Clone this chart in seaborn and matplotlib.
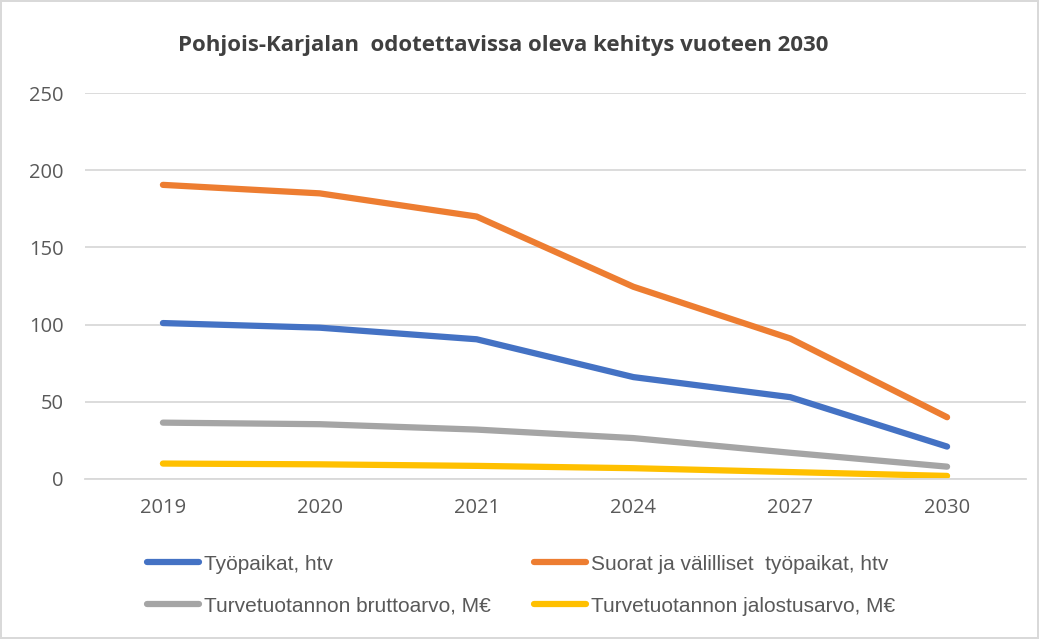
import matplotlib
matplotlib.use('Agg')
import matplotlib.pyplot as plt
import seaborn as sns
import pandas as pd

# ===== DATA =====
years = ['2019', '2020', '2021', '2024', '2027', '2030']
tyopaikat = [101, 98, 90.5, 66, 53, 21]
suorat_valilliset = [190.5, 185, 170, 124.5, 91, 40]
bruttoarvo = [36.5, 35.5, 32, 26.5, 17, 8]
jalostusarvo = [10, 9.5, 8.5, 7, 4.5, 2]

series_names = [
    'Työpaikat, htv',
    'Suorat ja välilliset  työpaikat, htv',
    'Turvetuotannon bruttoarvo, M€',
    'Turvetuotannon jalostusarvo, M€',
]
colors = ['#4472C4', '#ED7D31', '#A5A5A5', '#FFC000']

frames = []
for name, vals in zip(series_names, [tyopaikat, suorat_valilliset, bruttoarvo, jalostusarvo]):
    frames.append(pd.DataFrame({'year': years, 'value': vals, 'series': name}))
df = pd.concat(frames, ignore_index=True)

sns.set_theme(style='white')
plt.rcParams['font.family'] = ['Open Sans', 'DejaVu Sans']

W, H = 1039, 639
fig = plt.figure(figsize=(W / 100, H / 100), dpi=100)
fig.patch.set_edgecolor('#D9D9D9')
fig.patch.set_linewidth(1.5)
ax = fig.add_axes([84.5 / W, (H - 479) / H, 941 / W, 386 / H])

sns.lineplot(data=df, x='year', y='value', hue='series', hue_order=series_names,
             palette=colors, linewidth=4.5, ax=ax, legend=False, sort=False,
             solid_capstyle='round')

ax.set_xlim(-0.5, len(years) - 0.5)
ax.set_ylim(0, 250)
ax.set_yticks(range(0, 251, 50))
ax.set_xlabel('')
ax.set_ylabel('')
ax.yaxis.grid(True, color='#D9D9D9', linewidth=1.3)
ax.set_axisbelow(True)
for side in ['top', 'right', 'left']:
    ax.spines[side].set_visible(False)
ax.spines['bottom'].set_color('#D9D9D9')
ax.spines['bottom'].set_linewidth(1.3)
ax.tick_params(axis='both', length=0, labelsize=14.5, labelcolor='#595959')
ax.tick_params(axis='x', pad=14)
ax.tick_params(axis='y', pad=15)

fig.text(503 / W, 1 - 45 / H, 'Pohjois-Karjalan  odotettavissa oleva kehitys vuoteen 2030',
         ha='center', va='center', fontsize=16, fontweight='bold', color='#404040')

# legend: fill order gives rows [blue, orange] / [gray, yellow]
handles = [plt.Line2D([], [], color=c, linewidth=4.5, solid_capstyle='round') for c in colors]
order = [0, 2, 1, 3]
leg = fig.legend([handles[i] for i in order], [series_names[i] for i in order],
                 ncol=2, loc='upper left', bbox_to_anchor=(128 / W, 1 - 536 / H),
                 frameon=False, handlelength=2.5, handletextpad=0.25,
                 columnspacing=2.05, labelspacing=1.1,
                 prop={'family': ['Liberation Sans', 'DejaVu Sans'], 'size': 15})
for t in leg.get_texts():
    t.set_color('#595959')

fig.savefig('out.png', dpi=100)
